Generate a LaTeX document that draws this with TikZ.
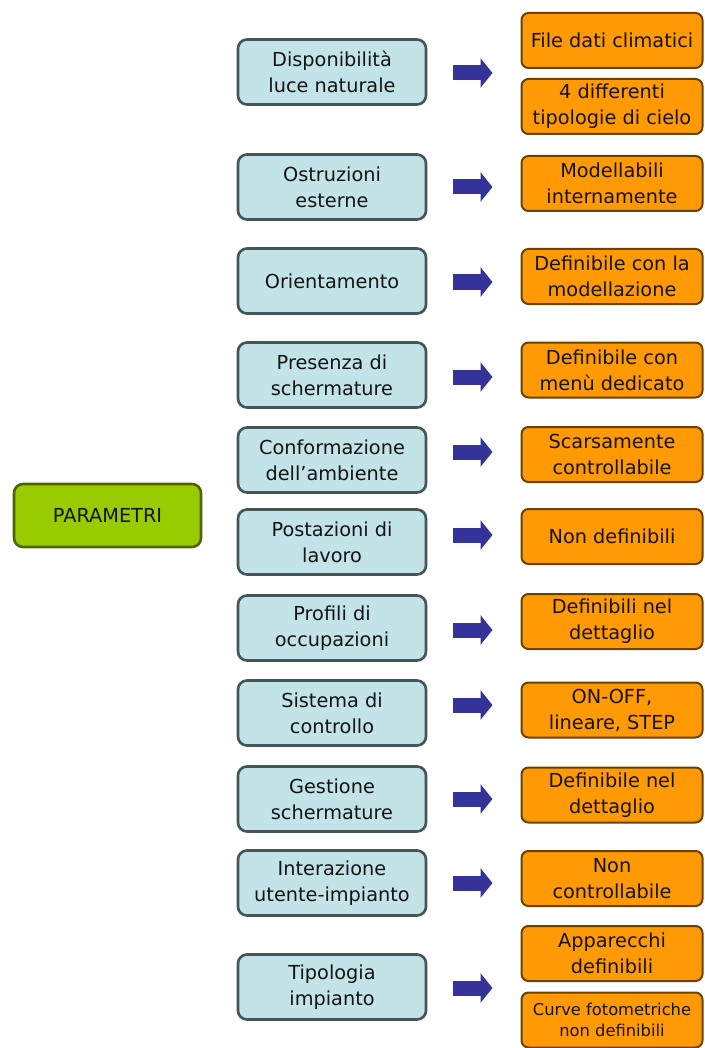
\documentclass[tikz,border=0pt]{standalone}
\usepackage{fontspec}
\setmainfont{DejaVu Sans}
\usetikzlibrary{arrows.meta}
\definecolor{bluefill}{HTML}{C2E3E8}
\definecolor{blueline}{HTML}{435556}
\definecolor{orfill}{HTML}{FF9A05}
\definecolor{orline}{HTML}{6A4200}
\definecolor{grfill}{HTML}{99CC00}
\definecolor{grline}{HTML}{4F6600}
\definecolor{arrowc}{HTML}{33339A}
\definecolor{txt}{HTML}{141414}
\begin{document}
\begin{tikzpicture}[x=1pt,y=-1pt,
  every node/.style={inner sep=0pt, align=center, text=txt, font=\fontsize{19.3}{26}\selectfont},
  param/.style={draw=blueline, fill=bluefill, line width=2.6pt, rounded corners=9pt, minimum width=188pt, minimum height=65pt},
  value/.style={draw=orline, fill=orfill, line width=2pt, rounded corners=7pt, minimum width=181pt, minimum height=55pt},
  rootbox/.style={draw=grline, fill=grfill, line width=2.6pt, rounded corners=9pt, minimum width=187pt, minimum height=63pt},
  fatarrow/.style={draw=arrowc, line width=15pt, -{Triangle[length=12pt,width=29pt]}, shorten <=26pt, shorten >=28pt}]
\useasboundingbox (0,0) rectangle (704,1048);
\fill[white] (0,0) rectangle (704,1048);

\node[rootbox] (p) at (107.5,515.5) {PARAMETRI};

\node[param] (b1) at (332,72) {Disponibilità\\luce naturale};
\node[param] (b2) at (332,187) {Ostruzioni\\esterne};
\node[param] (b3) at (332,281) {Orientamento};
\node[param] (b4) at (332,375) {Presenza di\\schermature};
\node[param] (b5) at (332,460) {Conformazione\\dell'ambiente};
\node[param] (b6) at (332,542) {Postazioni di\\lavoro};
\node[param] (b7) at (332,628) {Profili di\\occupazioni};
\node[param] (b8) at (332,713) {Sistema di\\controllo};
\node[param] (b9) at (332,799) {Gestione\\schermature};
\node[param] (b10) at (332,883) {Interazione\\utente-impianto};
\node[param] (b11) at (332,987) {Tipologia\\impianto};

\node[value] (o1) at (612,40.5) {File dati climatici};
\node[value] (o2) at (612,106.5) {4 differenti\\tipologie di cielo};
\node[value] (o3) at (612,183.5) {Modellabili\\internamente};
\node[value] (o4) at (612,276.5) {Definibile con la\\modellazione};
\node[value] (o5) at (612,370) {Definibile con\\menù dedicato};
\node[value] (o6) at (612,454.5) {Scarsamente\\controllabile};
\node[value] (o7) at (612,536.5) {Non definibili};
\node[value] (o8) at (612,621.5) {Definibili nel\\dettaglio};
\node[value] (o9) at (612,710) {ON-OFF,\\lineare, STEP};
\node[value] (o10) at (612,795) {Definibile nel\\dettaglio};
\node[value] (o11) at (612,878.5) {Non\\controllabile};
\node[value] (o12) at (612,953.5) {Apparecchi\\definibili};
\node[value, font=\fontsize{16.3}{21}\selectfont] (o13) at (612,1020) {Curve fotometriche\\non definibili};

\draw[fatarrow] ([yshift=-1pt]b1.east) -- ([yshift=-1pt]b1.east -| o1.west);
\draw[fatarrow] (b2.east) -- (b2.east -| o3.west);
\draw[fatarrow] ([yshift=-1pt]b3.east) -- ([yshift=-1pt]b3.east -| o4.west);
\draw[fatarrow] ([yshift=-2pt]b4.east) -- ([yshift=-2pt]b4.east -| o5.west);
\draw[fatarrow] ([yshift=8pt]b5.east) -- ([yshift=8pt]b5.east -| o6.west);
\draw[fatarrow] ([yshift=7pt]b6.east) -- ([yshift=7pt]b6.east -| o7.west);
\draw[fatarrow] ([yshift=-2pt]b7.east) -- ([yshift=-2pt]b7.east -| o8.west);
\draw[fatarrow] ([yshift=8pt]b8.east) -- ([yshift=8pt]b8.east -| o9.west);
\draw[fatarrow] (b9.east) -- (b9.east -| o10.west);
\draw[fatarrow] (b10.east) -- (b10.east -| o11.west);
\draw[fatarrow] ([yshift=-1pt]b11.east) -- ([yshift=-1pt]b11.east -| o12.west);
\end{tikzpicture}
\end{document}
